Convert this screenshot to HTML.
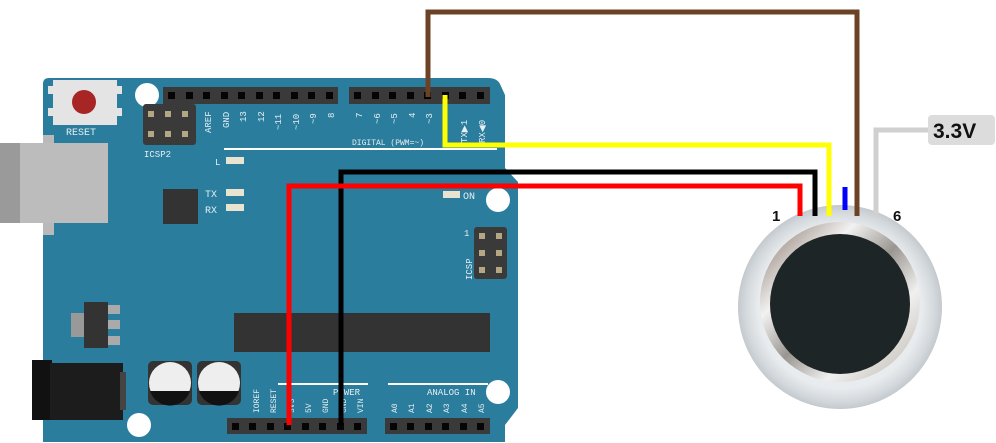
<!DOCTYPE html>
<html><head><meta charset="utf-8"><style>
html,body{margin:0;padding:0;background:#fff;width:996px;height:443px;overflow:hidden}
svg text{font-family:"Liberation Mono",monospace;fill:#e8eef2}
svg text.lab{font-family:"Liberation Sans",sans-serif;font-weight:bold;fill:#111}
</style></head><body>
<svg width="996" height="443" viewBox="0 0 996 443" xmlns="http://www.w3.org/2000/svg">
<defs>
<radialGradient id="outer" cx="50%" cy="50%" r="50%">
<stop offset="0.8" stop-color="#e9ecee"/><stop offset="0.93" stop-color="#d3d8dc"/><stop offset="1" stop-color="#c4c9cd"/>
</radialGradient>
<linearGradient id="metal" x1="0" y1="0" x2="1" y2="1">
<stop offset="0" stop-color="#7d6a5c"/><stop offset="0.3" stop-color="#f2f2f2"/><stop offset="0.5" stop-color="#9a9590"/><stop offset="0.7" stop-color="#f0f0f0"/><stop offset="1" stop-color="#b8b0a5"/>
</linearGradient>
</defs>
<path d="M49,78 L488,78 Q497,78 500,84 L505,95 L505,168 L518,182 L518,408 L505,425 L505,442 L43,442 L43,84 Q43,78 49,78 Z" fill="#2a7d9c"/>
<rect x="43" y="135" width="11" height="100" fill="#b9b9b9"/>
<rect x="0" y="143" width="20" height="80" fill="#9a9a9a"/>
<rect x="20" y="143" width="88" height="80" fill="#bcbcbc"/>
<rect x="53" y="80" width="64" height="45" fill="#e4e4e4"/>
<rect x="48" y="86" width="6" height="8" fill="#e4e4e4"/><rect x="48" y="108" width="6" height="8" fill="#e4e4e4"/>
<rect x="116" y="86" width="6" height="8" fill="#e4e4e4"/><rect x="116" y="108" width="6" height="8" fill="#e4e4e4"/>
<circle cx="84" cy="102" r="12" fill="#a82525"/>
<text x="66" y="135" font-size="10">RESET</text>
<circle cx="147" cy="95" r="12" fill="#fff"/>
<circle cx="498" cy="200" r="12" fill="#fff"/>
<circle cx="498" cy="392" r="12" fill="#fff"/>
<circle cx="139" cy="425" r="12" fill="#fff"/>
<rect x="163" y="87" width="175" height="17" fill="#3a3a3a"/>
<g fill="#050505">
<rect x="168" y="92" width="7" height="7"/><rect x="186" y="92" width="7" height="7"/><rect x="203" y="92" width="7" height="7"/><rect x="221" y="92" width="7" height="7"/><rect x="238" y="92" width="7" height="7"/><rect x="256" y="92" width="7" height="7"/><rect x="273" y="92" width="7" height="7"/><rect x="291" y="92" width="7" height="7"/><rect x="308" y="92" width="7" height="7"/><rect x="326" y="92" width="7" height="7"/>
</g>
<rect x="349" y="87" width="141" height="17" fill="#3a3a3a"/>
<g fill="#050505">
<rect x="354" y="92" width="7" height="7"/><rect x="372" y="92" width="7" height="7"/><rect x="389" y="92" width="7" height="7"/><rect x="407" y="92" width="7" height="7"/><rect x="424" y="92" width="7" height="7"/><rect x="442" y="92" width="7" height="7"/><rect x="459" y="92" width="7" height="7"/><rect x="477" y="92" width="7" height="7"/>
</g>
<g font-size="9">
<text transform="translate(211,133) rotate(-90)">AREF</text>
<text transform="translate(229,128) rotate(-90)">GND</text>
<text transform="translate(246,122) rotate(-90)">13</text>
<text transform="translate(264,122) rotate(-90)">12</text>
<text transform="translate(281,130) rotate(-90)">~11</text>
<text transform="translate(299,130) rotate(-90)">~10</text>
<text transform="translate(316,124) rotate(-90)">~9</text>
<text transform="translate(334,118) rotate(-90)">8</text>
<text transform="translate(362,118) rotate(-90)">7</text>
<text transform="translate(380,124) rotate(-90)">~6</text>
<text transform="translate(397,124) rotate(-90)">~5</text>
<text transform="translate(415,118) rotate(-90)">4</text>
<text transform="translate(432,124) rotate(-90)">~3</text>
<text transform="translate(467,143) rotate(-90)">TX▶1</text>
<text transform="translate(485,143) rotate(-90)">RX◀0</text>
<text x="352" y="145" font-size="8">DIGITAL (PWM=~)</text>
</g>
<rect x="143" y="104" width="53" height="41" rx="3" fill="#3a3a3a"/>
<g fill="#b4a884"><rect x="148" y="111" width="6" height="6"/><rect x="165" y="111" width="6" height="6"/><rect x="182" y="111" width="6" height="6"/><rect x="148" y="131" width="6" height="6"/><rect x="165" y="131" width="6" height="6"/><rect x="182" y="131" width="6" height="6"/></g>
<text x="144" y="157" font-size="9">ICSP2</text>
<rect x="224" y="148" width="273" height="2" fill="#fff"/>
<text x="215" y="165" font-size="9">L</text>
<rect x="226" y="157" width="18" height="7" fill="#e8e4d0"/>
<text x="205" y="197" font-size="10">TX</text>
<rect x="226" y="189" width="18" height="7" fill="#e8e4d0"/>
<text x="205" y="213" font-size="10">RX</text>
<rect x="226" y="204" width="18" height="7" fill="#e8e4d0"/>
<rect x="163" y="189" width="35" height="35" fill="#333"/>
<rect x="443" y="191" width="17" height="7" fill="#e8e4d0"/>
<text x="463" y="199" font-size="10">ON</text>
<rect x="474" y="227" width="33" height="52" rx="3" fill="#3a3a3a"/>
<g fill="#b4a884"><rect x="479" y="233" width="6" height="6"/><rect x="496" y="233" width="6" height="6"/><rect x="479" y="250" width="6" height="6"/><rect x="496" y="250" width="6" height="6"/><rect x="479" y="267" width="6" height="6"/><rect x="496" y="267" width="6" height="6"/></g>
<text x="464" y="236" font-size="9">1</text>
<text transform="translate(472,280) rotate(-90)" font-size="9">ICSP</text>
<rect x="71" y="313" width="14" height="24" fill="#999"/>
<rect x="107" y="305" width="13" height="9" fill="#aaa"/><rect x="107" y="320" width="13" height="9" fill="#aaa"/><rect x="107" y="336" width="13" height="9" fill="#aaa"/>
<rect x="84" y="302" width="24" height="46" fill="#333"/>
<rect x="234" y="313" width="256" height="39" fill="#333"/>
<rect x="32" y="360" width="20" height="60" fill="#111"/>
<rect x="50" y="363" width="73" height="57" fill="#1c1c1c"/>
<rect x="120" y="372" width="6" height="38" fill="#444"/>
<rect x="148" y="361" width="44" height="44" rx="5" fill="#333"/>
<rect x="197" y="361" width="44" height="44" rx="5" fill="#333"/>
<circle cx="170" cy="383" r="21" fill="#eee"/><path d="M150,391 A21,21 0 0 0 190,391 Z" fill="#111"/>
<circle cx="219" cy="383" r="21" fill="#eee"/><path d="M199,391 A21,21 0 0 0 239,391 Z" fill="#111"/>
<rect x="278" y="383" width="90" height="2" fill="#fff"/>
<rect x="388" y="383" width="100" height="2" fill="#fff"/>
<text x="333" y="395" font-size="9">POWER</text>
<text x="427" y="395" font-size="9">ANALOG IN</text>
<g font-size="8">
<text transform="translate(259,413) rotate(-90)">IOREF</text>
<text transform="translate(276,413) rotate(-90)">RESET</text>
<text transform="translate(294,413) rotate(-90)">3V3</text>
<text transform="translate(311,413) rotate(-90)">5V</text>
<text transform="translate(328,413) rotate(-90)">GND</text>
<text transform="translate(346,413) rotate(-90)">GND</text>
<text transform="translate(363,413) rotate(-90)">VIN</text>
<text transform="translate(397,413) rotate(-90)">A0</text>
<text transform="translate(414,413) rotate(-90)">A1</text>
<text transform="translate(432,413) rotate(-90)">A2</text>
<text transform="translate(449,413) rotate(-90)">A3</text>
<text transform="translate(467,413) rotate(-90)">A4</text>
<text transform="translate(484,413) rotate(-90)">A5</text>
</g>
<rect x="227" y="418" width="140" height="16" fill="#3a3a3a"/>
<g fill="#050505">
<rect x="232" y="423" width="7" height="7"/><rect x="249" y="423" width="7" height="7"/><rect x="267" y="423" width="7" height="7"/><rect x="284" y="423" width="7" height="7"/><rect x="302" y="423" width="7" height="7"/><rect x="319" y="423" width="7" height="7"/><rect x="337" y="423" width="7" height="7"/><rect x="354" y="423" width="7" height="7"/>
</g>
<rect x="385" y="418" width="105" height="16" fill="#3a3a3a"/>
<g fill="#050505">
<rect x="390" y="423" width="7" height="7"/><rect x="407" y="423" width="7" height="7"/><rect x="425" y="423" width="7" height="7"/><rect x="442" y="423" width="7" height="7"/><rect x="460" y="423" width="7" height="7"/><rect x="477" y="423" width="7" height="7"/>
</g>
<circle cx="840" cy="307" r="102" fill="url(#outer)"/>
<circle cx="840" cy="302" r="80" fill="url(#metal)"/>
<circle cx="840" cy="304" r="70" fill="#1e2526"/>
<g fill="none" stroke-width="5" stroke-linejoin="miter">
<polyline points="428,97 428,12 857,12 857,216" stroke="#6b4226"/>
<polyline points="445,95 445,145 829,145 829,216" stroke="#ffff00"/>
<polyline points="341,425 341,172 815,172 815,216" stroke="#000"/>
<polyline points="289,425 289,186 800,186 800,216" stroke="#ff0000"/>
<polyline points="845,187 845,210" stroke="#0000ff"/>
<polyline points="876,216 876,130 930,130" stroke="#d0d0d0"/>
</g>
<rect x="928" y="115" width="67" height="30" rx="4" fill="#dcdcdc"/>
<text class="lab" x="933" y="138" style="font-family:'Liberation Sans',sans-serif;font-weight:bold;font-size:21px;fill:#111">3.3V</text>
<text class="lab" x="772" y="221" style="font-family:'Liberation Sans',sans-serif;font-weight:bold;font-size:15px;fill:#111">1</text>
<text class="lab" x="893" y="221" style="font-family:'Liberation Sans',sans-serif;font-weight:bold;font-size:15px;fill:#111">6</text>
</svg>
</body></html>
